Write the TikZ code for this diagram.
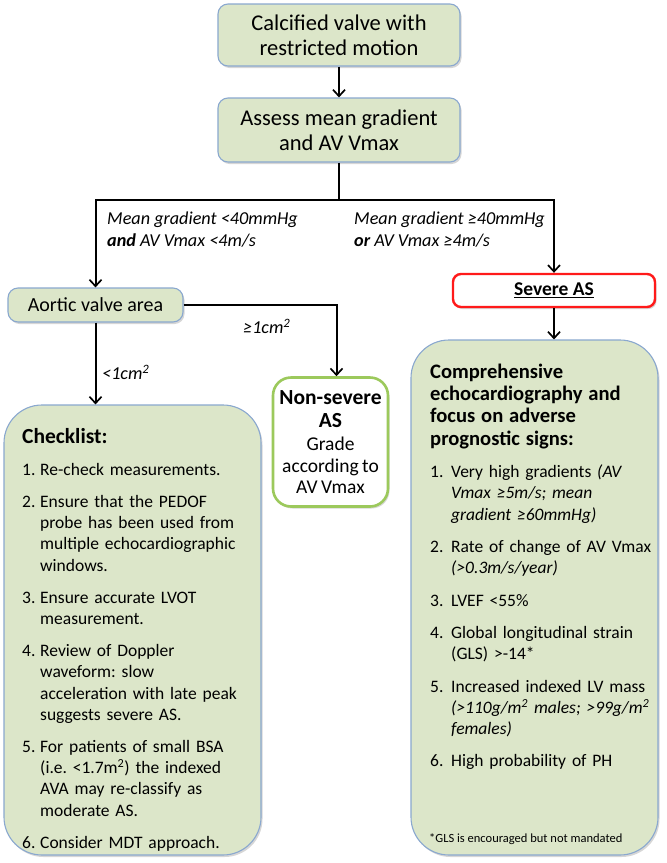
\documentclass[tikz,border=0pt]{standalone}
\usepackage{fontspec}
\setmainfont{Carlito}
\usetikzlibrary{arrows.meta,shadows}
\definecolor{boxfill}{HTML}{DCE6C9}
\definecolor{boxline}{HTML}{8AA8CF}
\definecolor{sevred}{HTML}{FF1A1A}
\definecolor{nsgreen}{HTML}{9CC95C}
\newcommand\citem[3]{\hangindent=#1\hangafter=1\noindent\makebox[#1][l]{#2}#3\par}
\frenchspacing
\begin{document}
\begin{tikzpicture}[x=1pt,y=-1pt,
  shad/.style={drop shadow={shadow xshift=1.5pt,shadow yshift=-2pt,fill=black!35,opacity=0.45}},
  flowbox/.style={draw=boxline, fill=boxfill, line width=1.1pt, rounded corners=10pt,
    align=center, inner sep=0pt, shad},
  bigbox/.style={draw=boxline, fill=boxfill, line width=1.1pt, rounded corners=38pt,
    inner sep=0pt, shad},
  conn/.style={line width=2pt, -{Straight Barb[length=6.5pt,width=12pt,line width=1.7pt]}},
  plain/.style={line width=2pt},
  lbl/.style={inner sep=0pt, anchor=north west, align=left,
    font=\fontsize{18.2}{21.5}\selectfont\itshape\frenchspacing},
  listtext/.style={inner sep=0pt, anchor=north west, align=left,
    font=\fontsize{17.5}{21.3}\selectfont\frenchspacing},
]
\useasboundingbox[fill=white] (0,0) rectangle (667,863);

% top boxes
\node[flowbox, minimum width=242pt, minimum height=62pt,
  font=\fontsize{22.5}{25}\selectfont] (calc) at (339,35)
  {Calcified valve with\\restricted motion};
\node[flowbox, minimum width=242pt, minimum height=64pt,
  font=\fontsize{22.5}{25}\selectfont] (assess) at (339,130)
  {Assess mean gradient\\and AV Vmax};

\coordinate (split) at (339,200);

\node[flowbox, minimum width=175pt, minimum height=34pt,
  font=\fontsize{20}{23}\selectfont] (ava) at (95.5,305) {Aortic valve area};

\node[draw=sevred, fill=white, line width=2.4pt, rounded corners=8pt, inner sep=0pt,
  minimum width=202pt, minimum height=33pt, shad,
  font=\fontsize{19.5}{23}\selectfont\bfseries] (severe) at (554,290.5)
  {\underline{Severe AS}};

\node[draw=nsgreen, fill=white, line width=2.6pt, rounded corners=18pt, inner sep=0pt,
  minimum width=115pt, minimum height=129pt, text width=112pt, align=center, shad]
  (nonsev) at (330.5,442)
  {{\fontsize{21.5}{23}\selectfont\bfseries Non-severe\\AS\par}\vspace{2pt}
   {\fontsize{19.5}{21.5}\selectfont Grade\\according to\\AV Vmax\par}};

% big boxes
\node[bigbox, minimum width=257pt, minimum height=450pt] (chk) at (132.5,630) {};
\node[bigbox, minimum width=247pt, minimum height=515pt] (comp) at (534.5,597.5) {};

\node[listtext, text width=238pt] (chktext) at (22,428) {%
  \parskip=10.7pt\relax
  {\fontsize{21.5}{23}\selectfont\bfseries Checklist:\par}
  \citem{18pt}{1.}{Re-check measurements.}
  \citem{18pt}{2.}{Ensure that the PEDOF\newline probe has been used from\newline multiple echocardiographic\newline windows.}
  \citem{18pt}{3.}{Ensure accurate LVOT\newline measurement.}
  \citem{18pt}{4.}{Review of Doppler\newline waveform: slow\newline acceleration with late peak\newline suggests severe AS.}
  \citem{18pt}{5.}{For patients of small BSA\newline (i.e. <1.7m\textsuperscript{2}) the indexed\newline AVA may re-classify as\newline moderate AS.}
  \citem{18pt}{6.}{Consider MDT approach.}
};

\node[listtext, text width=224pt] (comptext) at (430,363.5) {%
  \parskip=11pt\relax
  {\fontsize{20.6}{22.4}\selectfont\bfseries Comprehensive\newline echocardiography and\newline focus on adverse\newline prognostic signs:\par}
  \citem{21pt}{1.}{Very high gradients \textit{(AV\newline Vmax ≥5m/s; mean\newline gradient ≥60mmHg)}}
  \citem{21pt}{2.}{Rate of change of AV Vmax\newline \textit{(>0.3m/s/year)}}
  \citem{21pt}{3.}{LVEF <55\%}
  \citem{21pt}{4.}{Global longitudinal strain\newline (GLS) >-14*}
  \citem{21pt}{5.}{Increased indexed LV mass\newline \textit{(>110g/m\textsuperscript{2} males; >99g/m\textsuperscript{2}\newline females)}}
  \citem{21pt}{6.}{High probability of PH}
};
\node[inner sep=0pt, anchor=base west, font=\fontsize{12.5}{15}\selectfont]
  (gls) at (429,842) {*GLS is encouraged but not mandated};

% labels
\node[lbl] (lblleft) at (107,212) {Mean gradient <40mmHg\\\textbf{and} AV Vmax <4m/s};
\node[lbl] (lblright) at (354,212) {Mean gradient ≥40mmHg\\\textbf{or} AV Vmax ≥4m/s};
\node[lbl] (lblge) at (243,319) {≥1cm\textsuperscript{2}};
\node[lbl] (lbllt) at (102,365) {<1cm\textsuperscript{2}};

% connectors
\draw[conn] (calc.south) -- (assess.north);
\draw[plain] (assess.south) -- (split);
\draw[conn] (split) -| (ava.north);
\draw[conn] (split) -| (severe.north);
\draw[conn] (ava.east) -| ([xshift=6pt]nonsev.north);
\draw[conn] (ava.south) -- (ava.south |- chk.north);
\draw[conn] (severe.south) -- (severe.south |- comp.north);
\end{tikzpicture}
\end{document}
